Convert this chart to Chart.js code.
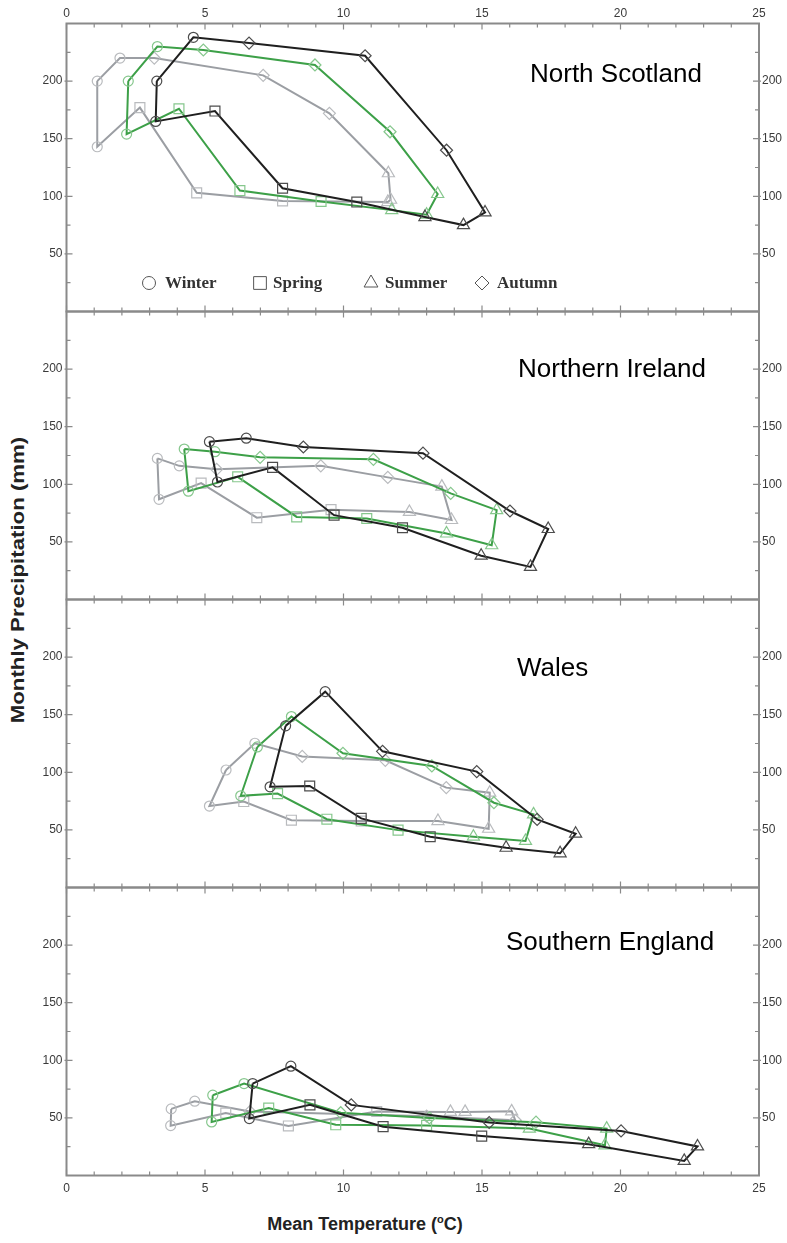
<!DOCTYPE html>
<html>
<head>
<meta charset="utf-8">
<script src="https://cdn.jsdelivr.net/npm/chart.js@4.4.1/dist/chart.umd.min.js"></script>
<style>
html,body{margin:0;padding:0;background:#fff;}
body{width:787px;height:1243px;position:relative;overflow:hidden;font-family:"Liberation Sans",Arial,sans-serif;}
canvas{position:absolute;left:0;}
#ytitle{position:absolute;left:18px;top:580px;transform:translate(-50%,-50%) rotate(-90deg) scaleX(1.17);font-weight:bold;font-size:19px;color:#222;white-space:nowrap;}
#xtitle{position:absolute;left:365px;top:1224px;transform:translate(-50%,-50%);font-weight:bold;font-size:18px;color:#222;white-space:nowrap;}
#xtitle sup{font-size:11px;vertical-align:7px;}
</style>
</head>
<body>
<div id="ytitle">Monthly Precipitation (mm)</div>
<div id="xtitle">Mean Temperature (<sup>o</sup>C)</div>
<script>
// ---------- labels & ticks ----------
const xTickValues = [0, 5, 10, 15, 20, 25];
const yTickValues = [50, 100, 150, 200];
const monthNames = ['Jan','Feb','Mar','Apr','May','Jun','Jul','Aug','Sep','Oct','Nov','Dec'];
const monthMarkers = ['circle','circle','rect','rect','rect','triangle','triangle','triangle','rectRot','rectRot','rectRot','circle'];
const legendSeasons = ['Winter','Spring','Summer','Autumn'];
const legendMarkers = ['circle','rect','triangle','rectRot'];
const regionNames = ['North Scotland','Northern Ireland','Wales','Southern England'];

// ---------- data (Jan..Dec): mean temperature (°C) and monthly precipitation (mm) ----------
// North Scotland
const nsBlackTemp   = [3.26, 3.22, 5.36, 7.80, 10.48, 12.94, 14.33, 15.11, 13.72, 10.78, 6.59, 4.58];
const nsBlackPrecip = [200, 165, 174, 107, 95, 82, 75, 86, 140, 222, 233, 238];
const nsGreenTemp   = [2.23, 2.17, 4.06, 6.26, 9.19, 11.74, 13.00, 13.40, 11.68, 8.97, 4.94, 3.28];
const nsGreenPrecip = [200, 154, 176, 105, 95.5, 88, 84, 102, 156, 214, 227, 230];
const nsGrayTemp    = [1.11, 1.11, 2.65, 4.70, 7.80, 11.60, 11.70, 11.62, 9.49, 7.10, 3.17, 1.93];
const nsGrayPrecip  = [200, 143, 177, 103, 96, 95, 97, 120, 172, 205, 220, 220];
// Northern Ireland
const niBlackTemp   = [5.16, 5.45, 7.44, 9.66, 12.13, 14.97, 16.75, 17.39, 16.01, 12.87, 8.55, 6.49];
const niBlackPrecip = [137, 102, 114.7, 73.2, 62.3, 38, 28.3, 61.2, 76.8, 127, 132.4, 140];
const niGreenTemp   = [4.25, 4.40, 6.18, 8.31, 10.84, 13.72, 15.35, 15.53, 13.87, 11.08, 6.99, 5.36];
const niGreenPrecip = [130.6, 94, 106.5, 71.7, 70.3, 57.3, 47.1, 77.6, 92.1, 121.7, 123.4, 128.3];
const niGrayTemp    = [3.28, 3.34, 4.86, 6.87, 9.55, 12.38, 13.90, 13.55, 11.60, 9.18, 5.42, 4.07];
const niGrayPrecip  = [122.5, 87, 101, 71, 78, 76, 69, 98, 106, 116, 113, 116];
// Wales
const waBlackTemp   = [7.91, 7.35, 8.78, 10.64, 13.13, 15.87, 17.82, 18.38, 16.99, 14.81, 11.41, 9.34];
const waBlackPrecip = [140.3, 87.4, 88.1, 60, 44.1, 34.5, 29.7, 46.7, 59.1, 100.6, 118.2, 170];
const waGreenTemp   = [6.89, 6.29, 7.62, 9.40, 11.97, 14.69, 16.57, 16.86, 15.43, 13.19, 9.98, 8.12];
const waGreenPrecip = [122, 79.6, 81.5, 59.3, 49.8, 44.1, 40.4, 63.5, 73.6, 105.5, 116.5, 148.4];
const waGrayTemp    = [5.76, 5.16, 6.40, 8.12, 10.64, 13.41, 15.24, 15.28, 13.71, 11.51, 8.51, 6.80];
const waGrayPrecip  = [102, 70.7, 74.6, 58.4, 57.7, 57.7, 51, 82.3, 86.7, 110.4, 113.8, 125.2];
// Southern England
const seBlackTemp   = [6.72, 6.60, 8.79, 11.43, 14.99, 18.85, 22.30, 22.78, 20.02, 15.26, 10.28, 8.10];
const seBlackPrecip = [79.8, 49.4, 61.3, 42.4, 34.2, 27.2, 12.7, 25.2, 38.7, 46.0, 61.3, 94.9];
const seGreenTemp   = [5.28, 5.24, 7.30, 9.72, 13.00, 16.71, 19.44, 19.50, 16.95, 13.10, 9.90, 6.41];
const seGreenPrecip = [69.7, 46.5, 58.5, 44.0, 43.5, 40.7, 26.2, 40.7, 46.3, 50.0, 54.5, 79.8];
const seGrayTemp    = [3.78, 3.76, 5.75, 8.01, 11.20, 13.86, 14.39, 16.07, 16.20, 13.00, 6.62, 4.63];
const seGrayPrecip  = [57.8, 43.3, 54.2, 43, 55.5, 55.2, 55.2, 55.7, 48, 51.5, 55.5, 64.5];

// ---------- styling ----------
const seriesStyles = [
  {line:'#1f1f1f', marker:'#4d4d4d'},
  {line:'#3da048', marker:'#86c78d'},
  {line:'#9b9ea3', marker:'#b9bbbe'}
];
const markerRadius = {circle:5, rect:7, triangle:7, rectRot:6};
const AXIS_COLOR = '#8a8a8a';
const PAGE_W = 787, PAGE_H = 1243;
const PLOT_LEFT = 66.5, PLOT_RIGHT = 759, FIRST_TOP = 23.5, PANEL_H = 288;
const titlePos = [[530, 82], [518, 377], [517, 676], [506, 950]];
const legendPos = {y: 283, baseline: 288, markerX: [149, 260, 371, 482], textX: [165, 273, 385, 497]};

const panels = [
  [[nsBlackTemp, nsBlackPrecip], [nsGreenTemp, nsGreenPrecip], [nsGrayTemp, nsGrayPrecip]],
  [[niBlackTemp, niBlackPrecip], [niGreenTemp, niGreenPrecip], [niGrayTemp, niGrayPrecip]],
  [[waBlackTemp, waBlackPrecip], [waGreenTemp, waGreenPrecip], [waGrayTemp, waGrayPrecip]],
  [[seBlackTemp, seBlackPrecip], [seGreenTemp, seGreenPrecip], [seGrayTemp, seGrayPrecip]]
];

function drawMarker(ctx, style, r, x, y) {
  if (Chart.helpers && Chart.helpers.drawPoint) {
    ctx.fillStyle = 'rgba(0,0,0,0)';
    Chart.helpers.drawPoint(ctx, {pointStyle: style, radius: r, rotation: 0, borderWidth: ctx.lineWidth}, x, y);
  }
}

const framePlugin = {
  id: 'frame',
  afterDraw(chart, args, opts) {
    const {ctx, chartArea: a, scales} = chart;
    const xs = scales.x, ys = scales.y;
    ctx.save();
    ctx.strokeStyle = AXIS_COLOR;
    ctx.lineWidth = 1.2;
    ctx.beginPath();
    for (let v = 0; v <= 25; v += 1) {
      const px = xs.getPixelForValue(v);
      const len = (v % 5 === 0) ? 6 : 4;
      ctx.moveTo(px, a.top); ctx.lineTo(px, a.top + len);
      ctx.moveTo(px, a.bottom); ctx.lineTo(px, a.bottom - len);
    }
    for (let v = 25; v < 250; v += 25) {
      const py = ys.getPixelForValue(v);
      const major = v % 50 === 0;
      const len = major ? 6 : 4;
      ctx.moveTo(a.left - (major ? 2 : 0), py); ctx.lineTo(a.left + len, py);
      ctx.moveTo(a.right + (major ? 2 : 0), py); ctx.lineTo(a.right - len, py);
    }
    ctx.stroke();
    ctx.lineWidth = 2;
    ctx.strokeRect(a.left, a.top, a.right - a.left, a.bottom - a.top);
    // region title
    ctx.fillStyle = '#000';
    ctx.font = '26px "Liberation Sans", Arial, sans-serif';
    ctx.textBaseline = 'alphabetic';
    ctx.textAlign = 'left';
    ctx.fillText(opts.title, opts.tx, opts.ty);
    // legend
    if (opts.legend) {
      const radii = [6.5, 9, 8, 7];
      legendSeasons.forEach((s, k) => {
        ctx.strokeStyle = '#555';
        ctx.lineWidth = 1;
        drawMarker(ctx, legendMarkers[k], radii[k], opts.legend.markerX[k], opts.legend.y);
        ctx.fillStyle = '#333';
        ctx.font = 'bold 17px "Liberation Serif", "Times New Roman", serif';
        ctx.fillText(s, opts.legend.textX[k], opts.legend.baseline);
      });
    }
    ctx.restore();
  }
};

function resetPadding(s) { s.paddingTop = 0; s.paddingBottom = 0; s.paddingLeft = 0; s.paddingRight = 0; }

panels.forEach((series, i) => {
  const top = FIRST_TOP + PANEL_H * i;
  const bottom = top + PANEL_H;
  const first = i === 0, last = i === panels.length - 1;
  const cTop = first ? 0 : Math.floor(top) - 12;
  const cBot = last ? PAGE_H : Math.ceil(bottom) + 12;
  const X_BOTTOM_H = 30;
  const xAxisH = first ? FIRST_TOP : (last ? X_BOTTOM_H : 0);
  const canvas = document.createElement('canvas');
  canvas.width = PAGE_W;
  canvas.height = cBot - cTop;
  canvas.style.top = cTop + 'px';
  document.body.appendChild(canvas);

  const padTop = first ? 0 : top - cTop;
  const padBottom = last ? (cBot - bottom - X_BOTTOM_H) : (cBot - bottom);

  const datasets = series.map((s, k) => {
    const [temps, precs] = s;
    const pts = temps.map((t, m) => ({x: t, y: precs[m], month: monthNames[m]}));
    pts.push({x: pts[0].x, y: pts[0].y, month: monthNames[0]});
    const styles = monthMarkers.concat([monthMarkers[0]]);
    const radii = styles.map((st, m) => m === 12 ? 0 : markerRadius[st]);
    return {
      data: pts,
      showLine: true,
      borderColor: seriesStyles[k].line,
      borderWidth: 2,
      tension: 0,
      fill: false,
      pointStyle: styles,
      pointRadius: radii,
      pointHoverRadius: radii,
      pointBorderColor: seriesStyles[k].marker,
      pointBackgroundColor: 'rgba(0,0,0,0)',
      pointBorderWidth: 1.2,
      clip: false
    };
  });

  const tickFont = {family: '"Liberation Sans", Arial, sans-serif', size: 12};
  new Chart(canvas, {
    type: 'scatter',
    data: {datasets},
    options: {
      responsive: false,
      animation: false,
      devicePixelRatio: 1,
      events: [],
      layout: {padding: {top: padTop, bottom: padBottom, left: 0, right: 0}},
      plugins: {
        legend: {display: false},
        tooltip: {enabled: false},
        frame: {
          title: regionNames[i],
          tx: titlePos[i][0],
          ty: titlePos[i][1] - cTop,
          legend: first ? {y: legendPos.y - cTop, baseline: legendPos.baseline - cTop, markerX: legendPos.markerX, textX: legendPos.textX} : null
        }
      },
      scales: {
        x: {
          type: 'linear', min: 0, max: 25,
          position: first ? 'top' : 'bottom',
          display: first || last,
          grid: {display: false, drawTicks: false},
          border: {display: false},
          afterBuildTicks: s => { s.ticks = xTickValues.map(v => ({value: v})); },
          afterFit: s => { s.height = xAxisH; resetPadding(s); },
          ticks: {autoSkip: false, maxRotation: 0, padding: first ? 3 : 6, color: '#3a3a3a', font: tickFont,
                  callback: v => String(v)}
        },
        y: {
          type: 'linear', min: 0, max: 250, position: 'left',
          grid: {display: false, drawTicks: false},
          border: {display: false},
          afterBuildTicks: s => { s.ticks = yTickValues.map(v => ({value: v})); },
          afterFit: s => { s.width = PLOT_LEFT; resetPadding(s); },
          ticks: {autoSkip: false, padding: 4, color: '#3a3a3a', font: tickFont, callback: v => String(v)}
        },
        y2: {
          type: 'linear', min: 0, max: 250, position: 'right',
          grid: {display: false, drawTicks: false},
          border: {display: false},
          afterBuildTicks: s => { s.ticks = yTickValues.map(v => ({value: v})); },
          afterFit: s => { s.width = PAGE_W - PLOT_RIGHT; resetPadding(s); },
          ticks: {autoSkip: false, padding: 3, color: '#3a3a3a', font: tickFont, callback: v => String(v)}
        }
      }
    },
    plugins: [framePlugin]
  });
});
</script>
</body>
</html>
